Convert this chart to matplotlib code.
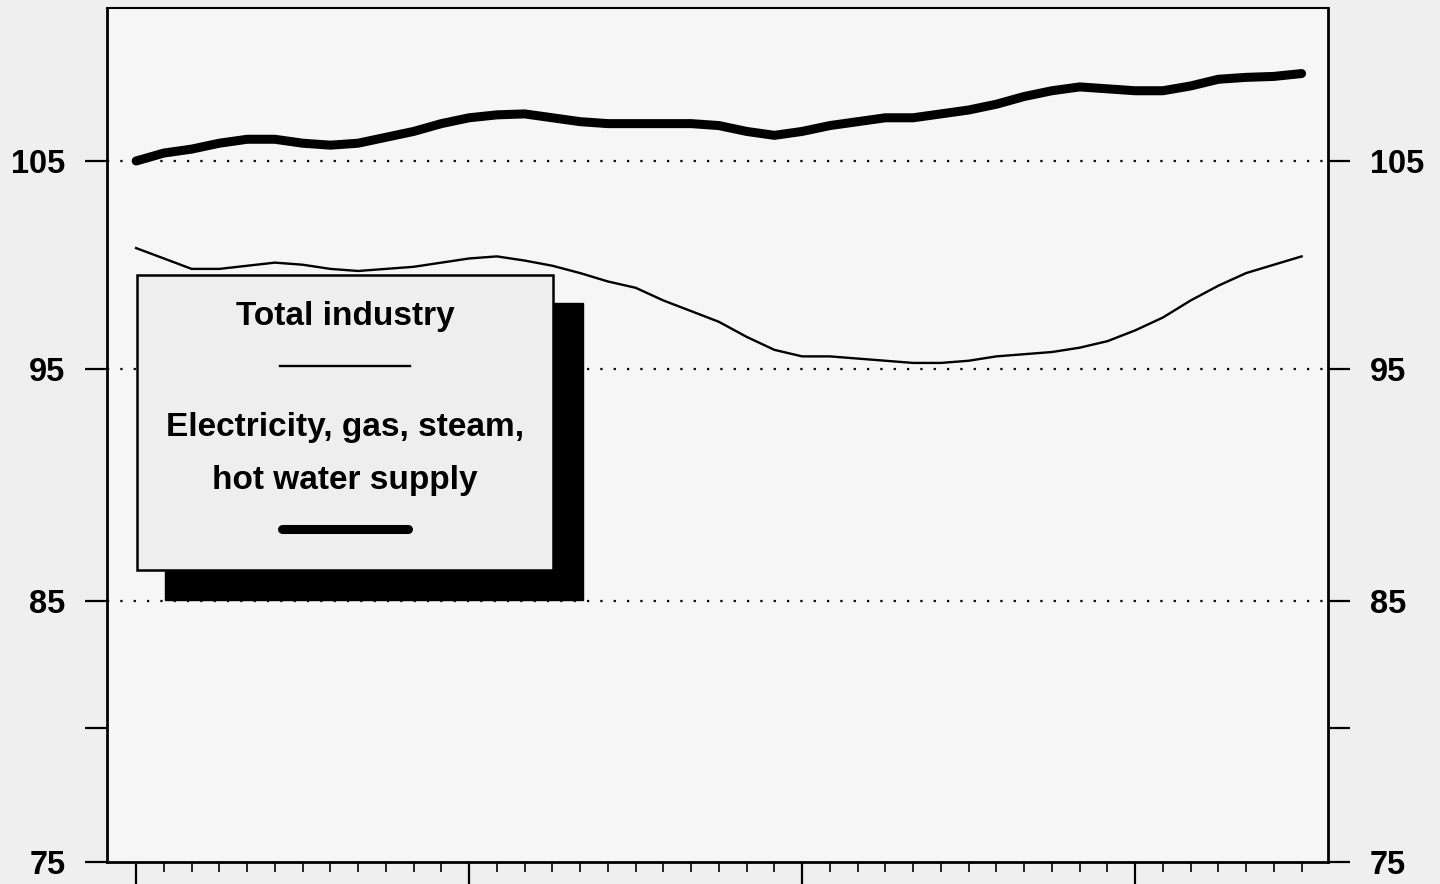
import numpy as np
import matplotlib
matplotlib.use("Agg")
import matplotlib.pyplot as plt
from matplotlib.patches import Rectangle
from matplotlib.lines import Line2D
from matplotlib.ticker import FixedLocator, FixedFormatter, NullLocator

# ---- data (monthly index values) ----
electricity = [105.0, 105.4, 105.6, 105.9, 106.1, 106.1, 105.9, 105.8, 105.9, 106.2,
               106.5, 106.9, 107.2, 107.35, 107.4, 107.2, 107.0, 106.9, 106.9, 106.9,
               106.9, 106.8, 106.5, 106.3, 106.5, 106.8, 107.0, 107.2, 107.2, 107.4,
               107.6, 107.9, 108.3, 108.6, 108.8, 108.7, 108.6, 108.6, 108.85, 109.2,
               109.3, 109.35, 109.5]
total_industry = [100.7, 100.2, 99.7, 99.7, 99.85, 100.0, 99.9, 99.7, 99.6, 99.7,
                  99.8, 100.0, 100.2, 100.3, 100.1, 99.85, 99.5, 99.1, 98.8, 98.2,
                  97.7, 97.2, 96.5, 95.9, 95.6, 95.6, 95.5, 95.4, 95.3, 95.3,
                  95.4, 95.6, 95.7, 95.8, 96.0, 96.3, 96.8, 97.4, 98.2, 98.9,
                  99.5, 99.9, 100.3]
y_ticks = [75, 80, 85, 95, 105]
y_tick_labels = ["75", "", "85", "95", "105"]
grid_levels = [85, 95, 105]
legend_total = "Total industry"
legend_elec = "Electricity, gas, steam,\nhot water supply"

months = np.arange(len(electricity))

plt.rcParams['font.family'] = ['Liberation Sans', 'DejaVu Sans']

fig = plt.figure(figsize=(14.4, 8.84), dpi=100, facecolor='#efefef')
ax = fig.add_axes([107/1440, 22/884, 1221/1440, 854/884])
ax.set_facecolor('#f6f6f6')

ax.set_yscale('log')
ax.set_ylim(75, 113)
ax.set_xlim(-1.05, 42.95)

for lv in grid_levels:
    ax.axhline(lv, color='black', lw=1.6, linestyle=(0, (1, 5)), zorder=1)

ax.plot(months, total_industry, color='black', lw=1.7, zorder=3)
ax.plot(months, electricity, color='black', lw=6.5, solid_capstyle='round',
        solid_joinstyle='round', zorder=3)

# y ticks
ax.yaxis.set_major_locator(FixedLocator(y_ticks))
ax.yaxis.set_major_formatter(FixedFormatter(y_tick_labels))
ax.yaxis.set_minor_locator(NullLocator())
ax.tick_params(axis='y', which='major', left=True, right=True, labelleft=True,
               labelright=True, direction='out', length=16, width=1.6, pad=14,
               labelsize=23.5)
for lab in ax.get_yticklabels():
    lab.set_fontweight('bold')

# x ticks (monthly, years as major)
ax.xaxis.set_major_locator(FixedLocator([0, 12, 24, 36]))
ax.xaxis.set_minor_locator(FixedLocator(list(months)))
ax.tick_params(axis='x', which='major', direction='out', length=16, width=1.6,
               labelbottom=False)
ax.tick_params(axis='x', which='minor', direction='out', length=7, width=1.2)

for s in ['left', 'right', 'bottom']:
    ax.spines[s].set_linewidth(2.0)
ax.spines['top'].set_linewidth(1.5)

# ---- legend box with shadow ----
W, H = 1221.0, 854.0
def fx(px):
    return (px - 107) / W
def fy(py):
    return (862 - py) / H

ax.add_patch(Rectangle((fx(165), fy(600)), fx(583) - fx(165), fy(303) - fy(600),
                       transform=ax.transAxes, facecolor='black', edgecolor='black',
                       zorder=5))
ax.add_patch(Rectangle((fx(137), fy(570)), fx(553) - fx(137), fy(275) - fy(570),
                       transform=ax.transAxes, facecolor='#eeeeee', edgecolor='black',
                       lw=1.8, zorder=6))
ax.text(fx(345), fy(317), legend_total, transform=ax.transAxes, ha='center',
        va='center', fontsize=24, fontweight='bold', zorder=7)
ax.add_line(Line2D([fx(280), fx(410)], [fy(366), fy(366)], transform=ax.transAxes,
                   color='black', lw=1.7, zorder=7))
ax.text(fx(345), fy(454), legend_elec, transform=ax.transAxes, ha='center',
        va='center', fontsize=24, fontweight='bold', linespacing=1.9, zorder=7)
ax.add_line(Line2D([fx(282), fx(408)], [fy(529), fy(529)], transform=ax.transAxes,
                   color='black', lw=6.5, solid_capstyle='round', zorder=7))

fig.savefig('out.png', dpi=100, facecolor=fig.get_facecolor())
